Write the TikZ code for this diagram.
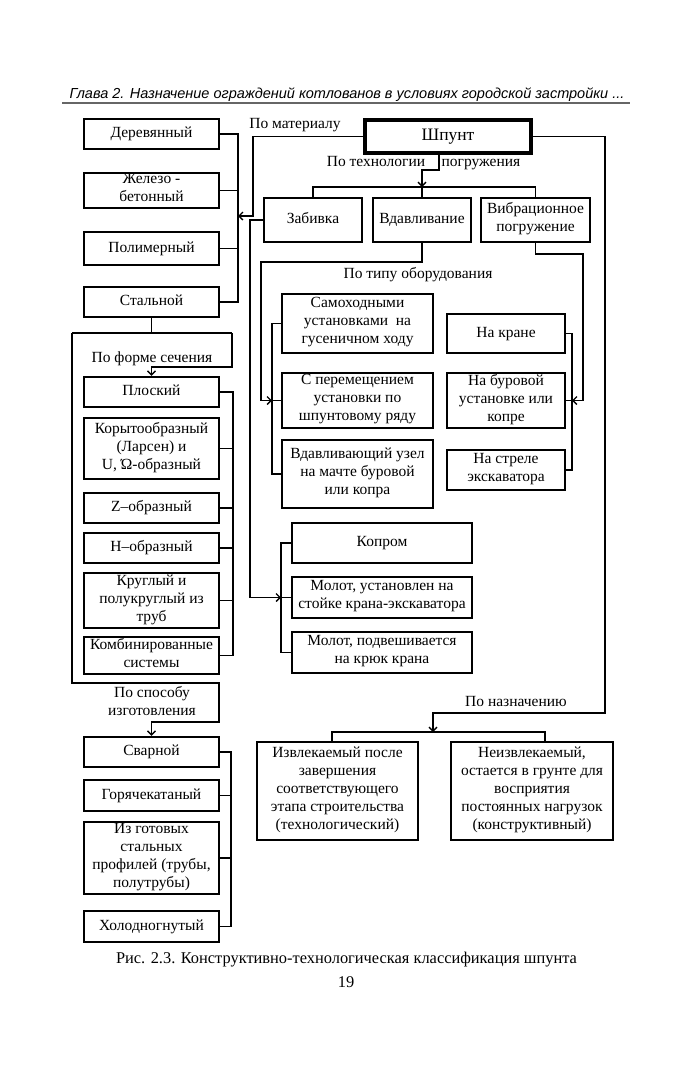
\documentclass[tikz,border=0pt]{standalone}
\usepackage{fontspec}
\setmainfont{Liberation Serif}
\newfontfamily\hdrfont{Liberation Sans}
\usetikzlibrary{arrows.meta}
\begin{document}
\begin{tikzpicture}[x=1pt,y=-1pt,
 box/.style={draw,line width=2.4pt,inner sep=1pt,align=center,font=\fontsize{15.5}{18}\selectfont,
   execute at begin node=\strut,execute at end node=\strut},
 conn/.style={line width=1.3pt},
 arr/.style={conn,-{Straight Barb[length=4pt,width=8pt]}},
 lbl/.style={inner sep=0pt,align=center,font=\fontsize{15.5}{18}\selectfont,
   execute at begin node=\strut,execute at end node=\strut}]
\useasboundingbox[fill=white] (0,0) rectangle (691,1080);
\newcommand\bx[6]{\node[box,minimum width={#4-#2},minimum height={#5-#3}] (#1) at ({(#2+#4)/2},{(#3+#5)/2}) {#6};}

% header
\node[inner sep=0pt,font=\hdrfont\itshape\fontsize{14.5}{17}\selectfont] (hdr) at (347,95) {Глава 2. Назначение ограждений котлованов в условиях городской застройки ...};
\draw[line width=1.6pt,black!60] (62,103) -- (630,103);

% main
\node[draw,line width=4pt,inner sep=1pt,minimum width=166,minimum height=33,font=\fontsize{17.5}{21}\selectfont,
  execute at begin node=\strut] (shp) at (448,136.5) {Шпунт};

% material column
\bx{der}{84}{119}{219}{149}{Деревянный}
\bx{zhb}{84}{174}{219}{207}{Железо -\\бетонный}
\bx{pol}{84}{232}{219}{265}{Полимерный}
\bx{stal}{84}{287}{219}{317}{Стальной}

% section column
\bx{plos}{84}{377}{219}{407}{Плоский}
\bx{kor}{84}{418}{219}{479}{Корытообразный\\(Ларсен) и\\U, Ώ-образный}
\bx{zz}{84}{493}{219}{523}{Z–образный}
\bx{hh}{84}{533}{219}{563}{H–образный}
\bx{krug}{84}{573}{219}{628}{Круглый и\\полукруглый из\\труб}
\bx{komb}{84}{638}{219}{673}{Комбинированные\\системы}

% manufacture column
\bx{svar}{84}{737}{219}{767}{Сварной}
\bx{gor}{84}{780}{219}{811}{Горячекатаный}
\bx{izg}{84}{822}{219}{894}{Из готовых\\стальных\\профилей (трубы,\\полутрубы)}
\bx{hol}{84}{911}{219}{942}{Холодногнутый}

% technology
\bx{zab}{264}{198}{362}{242}{Забивка}
\bx{vdav}{373}{198}{471}{242}{Вдавливание}
\bx{vib}{481}{198}{590}{242}{Вибрационное\\погружение}

% equipment (pressing)
\bx{sam}{282}{294}{433}{353}{Самоходными\\установками~ на\\гусеничном ходу}
\bx{sper}{282}{373}{433}{428}{С перемещением\\установки по\\шпунтовому ряду}
\bx{vuz}{282}{440}{433}{508}{Вдавливающий узел\\на мачте буровой\\или копра}

% equipment (vibration)
\bx{kran}{447}{314}{565}{353}{На кране}
\bx{bur}{447}{373}{565}{428}{На буровой\\установке или\\копре}
\bx{strel}{447}{450}{565}{490}{На стреле\\экскаватора}

% equipment (driving)
\bx{kop}{292}{523}{472}{563}{Копром}
\bx{mu}{292}{577}{472}{618}{Молот, установлен на\\стойке крана-экскаватора}
\bx{mp}{292}{632}{472}{673}{Молот, подвешивается\\на крюк крана}

% purpose
\bx{izv}{257}{742}{418}{840}{Извлекаемый после\\завершения\\соответствующего\\этапа строительства\\(технологический)}
\bx{neiz}{451}{742}{613}{840}{Неизвлекаемый,\\остается в грунте для\\восприятия\\постоянных нагрузок\\(конструктивный)}

% labels
\node[lbl] (lmat) at (295,125) {По материалу};
\node[lbl] (ltech1) at (376,163) {По технологии};
\node[lbl] (ltech2) at (481,163) {погружения};
\node[lbl] (ltype) at (418,275) {По типу оборудования};
\node[lbl] (lform) at (152,359) {По форме сечения};
\node[lbl] (lsp) at (152,704) {По способу\\изготовления};
\node[lbl] (lnaz) at (516,703) {По назначению};

% material connectors
\coordinate (mbus) at (238,216);
\coordinate (mturn) at (253,216);
\draw[conn] (der.east) -| (mbus) |- (stal.east);
\draw[conn] (zhb.east) -- (zhb.east -| mbus);
\draw[conn] (pol.east) -- (pol.east -| mbus);
\draw[arr] (shp.west) -| (mturn) -- (mbus);

% technology connectors
\coordinate (tk) at (422,187);
\coordinate (t1) at (439,170);
\draw[arr] (shp.south -| t1) -- (t1) -| (tk);
\draw[conn] (zab.north) |- (tk) -| (vib.north);
\draw[conn] (vdav.north) -- (tk);

% zabivka -> kopr group
\coordinate (kbus) at (281,597.5);
\coordinate (zt) at (250,597.5);
\draw[arr] (zab.west) -| (zt) -- (kbus);
\draw[conn] (kop.west) -| (kbus) |- (mp.west);
\draw[conn] (mu.west) -- (kbus);

% vdav -> group
\coordinate (sbus) at (272,400.5);
\coordinate (st1) at (422,262);
\coordinate (st2) at (261,400.5);
\draw[arr] (vdav.south) -- (st1) -| (st2) -- (sbus);
\draw[conn] (sam.west) -| (sbus) |- (vuz.west);
\draw[conn] (sper.west) -- (sbus);

% vib -> group
\coordinate (rbus) at (572,400.5);
\coordinate (rt1) at (535.5,254);
\coordinate (rt2) at (583,400.5);
\draw[arr] (vib.south) -- (rt1) -| (rt2) -- (rbus);
\draw[conn] (kran.east) -| (rbus) |- (strel.east);
\draw[conn] (bur.east) -- (rbus);

% steel -> section / manufacture
\coordinate (sA) at (151.5,333);
\coordinate (sL) at (72,333);
\coordinate (sR) at (232,333);
\coordinate (sR2) at (232,367);
\coordinate (sC) at (151.5,367);
\draw[conn] (stal.south) -- (sA);
\draw[conn] (sL) -- (sR);
\draw[arr] (sR) -- (sR2) -- (sC) -- (plos.north);
\coordinate (mL) at (72,683);
\coordinate (mR) at (219,683);
\coordinate (mR2) at (219,722);
\coordinate (mC) at (151.5,722);
\draw[arr] (sL) -- (mL) -- (mR) -- (mR2) -- (mC) -- (svar.north);

% section bus
\coordinate (fb) at (233,500);
\draw[conn] (plos.east) -| (fb) |- (komb.east);
\foreach \n in {kor,zz,hh,krug} \draw[conn] (\n.east) -- (\n.east -| fb);

% manufacture bus
\coordinate (gb) at (231,850);
\draw[conn] (svar.east) -| (gb) |- (hol.east);
\foreach \n in {gor,izg} \draw[conn] (\n.east) -- (\n.east -| gb);

% purpose
\coordinate (p2) at (605,713);
\coordinate (pbus) at (433,732);
\coordinate (pl) at (332,732);
\coordinate (pr) at (545,732);
\draw[arr] (shp.east) -| (p2) -| (pbus);
\draw[conn] (izv.north -| pl) -- (pl) -- (pr) -- (neiz.north -| pr);

% caption
\node[inner sep=0pt,font=\fontsize{16.4}{19}\selectfont] (cap) at (346.5,960) {Рис. 2.3. Конструктивно-технологическая классификация шпунта};
\node[inner sep=0pt,font=\fontsize{16.4}{19}\selectfont] (pg) at (346,982) {19};
\end{tikzpicture}
\end{document}
